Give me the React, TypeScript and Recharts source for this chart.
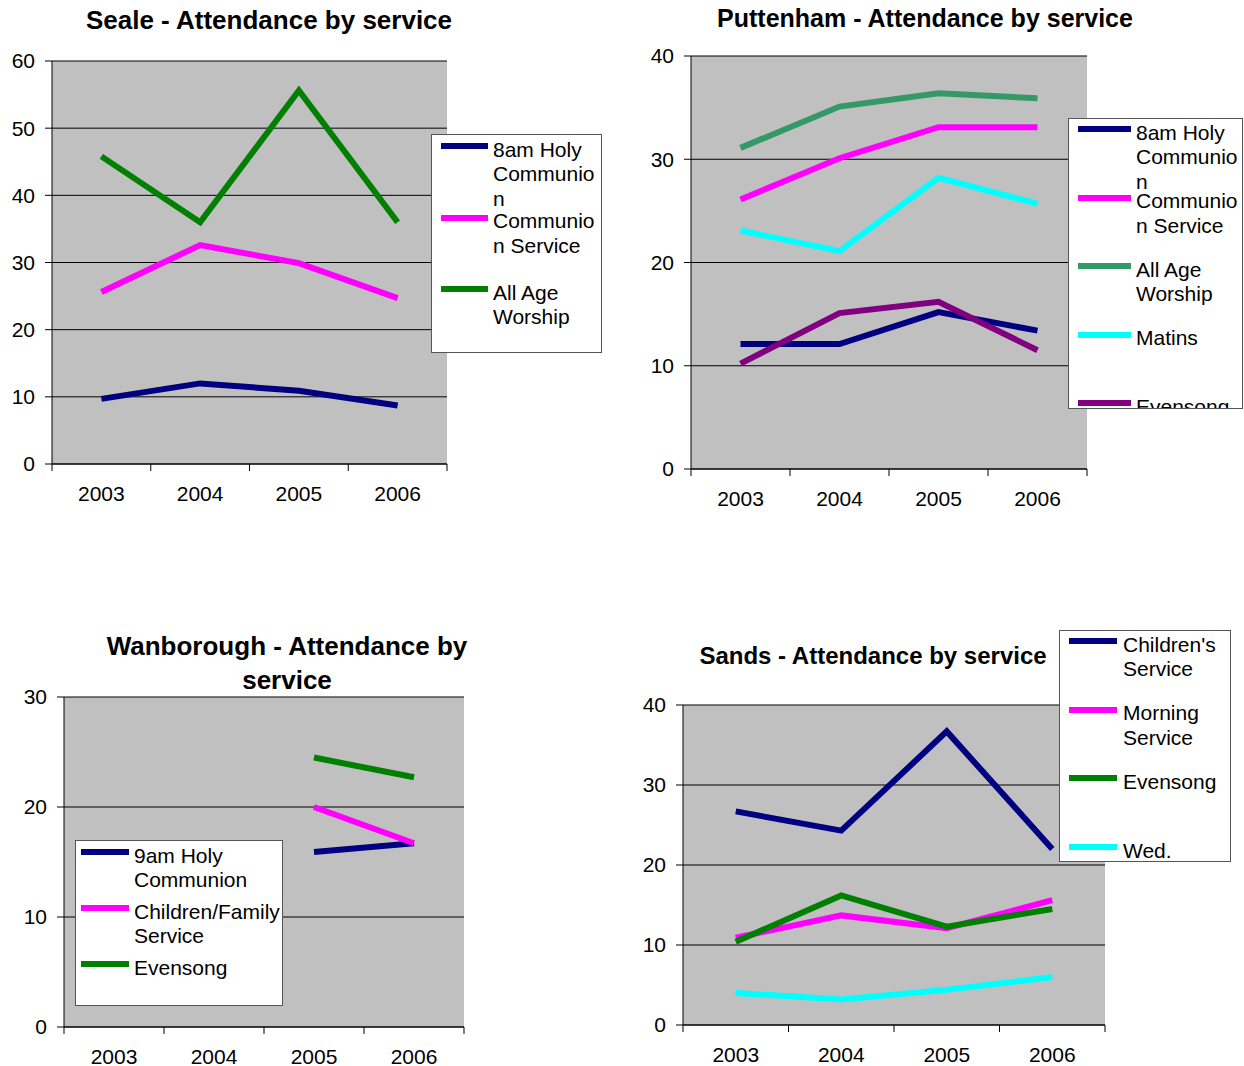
import { CartesianGrid, Legend, Line, LineChart, XAxis, YAxis } from "recharts";

const years = ["2003", "2004", "2005", "2006"];

// Seale
const sealeHolyCommunion = [9.7, 12.0, 10.9, 8.7];
const sealeCommunionService = [25.6, 32.6, 29.9, 24.7];
const sealeAllAge = [45.8, 36.0, 55.6, 36.0];
const sealeTicks = [0, 10, 20, 30, 40, 50, 60];

// Puttenham
const puttHolyCommunion = [12.1, 12.1, 15.2, 13.4];
const puttCommunionService = [26.1, 30.1, 33.1, 33.1];
const puttAllAge = [31.1, 35.1, 36.4, 35.9];
const puttMatins = [23.1, 21.1, 28.2, 25.7];
const puttEvensong = [10.2, 15.1, 16.2, 11.5];
const puttTicks = [0, 10, 20, 30, 40];

// Wanborough
const wanHolyCommunion = [null, null, 15.9, 16.7];
const wanChildrenFamily = [null, null, 20.0, 16.7];
const wanEvensong = [null, null, 24.5, 22.7];
const wanTicks = [0, 10, 20, 30];

// Sands
const sandsChildren = [26.7, 24.3, 36.7, 22.0];
const sandsMorning = [10.9, 13.7, 12.1, 15.6];
const sandsEvensong = [10.4, 16.2, 12.3, 14.5];
const sandsWed = [4.0, 3.2, 4.4, 6.0];
const sandsTicks = [0, 10, 20, 30, 40];

const font = '"Liberation Sans", Arial, sans-serif';

type Series = { name: string; values: (number | null)[]; color: string };
type Plot = { left: number; right: number; top: number; bottom: number };
type LegendBox = {
  left: number; top: number; width: number; height: number;
  swatchLeft: number; swatchWidth: number; textLeft: number; first: number; step: number;
};
type Title = { lines: string[]; cx: number; cy: number; size: number; lineHeight: number };

function YearTick(props: any) {
  const { x, y, payload, index, band, last } = props;
  return (
    <g>
      <line x1={x - band / 2} y1={y} x2={x - band / 2} y2={y + 7} stroke="#000" />
      {index === last && <line x1={x + band / 2} y1={y} x2={x + band / 2} y2={y + 7} stroke="#000" />}
      <text x={x} y={y + 37} textAnchor="middle" fontSize={21} fill="#000">
        {payload.value}
      </text>
    </g>
  );
}

function AttendanceChart({ title, plot, ticks, series, legend }: {
  title: Title; plot: Plot; ticks: number[]; series: Series[]; legend: LegendBox;
}) {
  const chartLeft = plot.left - 60;
  const chartTop = plot.top - 20;
  const width = plot.right - chartLeft + 20;
  const height = plot.bottom - chartTop + 60;
  const band = (plot.right - plot.left) / years.length;
  const max = ticks[ticks.length - 1];
  const rows = years.map((year, i) => {
    const row: Record<string, string | number | null> = { year };
    series.forEach((s, k) => (row["s" + k] = s.values[i]));
    return row;
  });

  const renderLegend = () => (
    <div style={{ position: "relative", width: legend.width, height: legend.height, background: "#fff", border: "1px solid #555", boxSizing: "border-box", overflow: "hidden", fontFamily: font }}>
      {series.map((s, i) => {
        const cy = legend.first + i * legend.step;
        return (
          <div key={s.name}>
            <div style={{ position: "absolute", left: legend.swatchLeft - 1, top: cy - 4, width: legend.swatchWidth, height: 6, background: s.color }} />
            <div style={{ position: "absolute", left: legend.textLeft - 1, top: cy + 4 - 13.25, width: legend.width - legend.textLeft - 1, fontSize: 21, lineHeight: "24.5px", color: "#000", overflowWrap: "break-word", textAlign: "left" }}>
              {s.name}
            </div>
          </div>
        );
      })}
    </div>
  );

  return (
    <>
      <div style={{ position: "absolute", left: title.cx - 300, width: 600, top: title.cy - title.lineHeight / 2, textAlign: "center", fontWeight: "bold", fontSize: title.size, lineHeight: title.lineHeight + "px", fontFamily: font }}>
        {title.lines.map((l) => <div key={l}>{l}</div>)}
      </div>
      <div style={{ position: "absolute", left: chartLeft, top: chartTop }}>
        <LineChart width={width} height={height} data={rows} margin={{ top: 20, right: 20, bottom: 0, left: 0 }}>
          <CartesianGrid vertical={false} stroke="#000" fill="#C0C0C0" fillOpacity={1} />
          <XAxis dataKey="year" scale="band" height={60} tickSize={0} tickMargin={0} tickLine={false} axisLine={{ stroke: "#000" }}
            tick={(p: any) => <YearTick {...p} band={band} last={years.length - 1} />} />
          <XAxis xAxisId="top" orientation="top" dataKey="year" scale="band" height={0} tick={false} tickLine={false} axisLine={{ stroke: "#808080", strokeWidth: 2 }} />
          <YAxis width={60} domain={[0, max]} ticks={ticks} tickSize={7} tickMargin={10} interval={0}
            axisLine={{ stroke: "#000" }} tickLine={{ stroke: "#000" }} tick={{ fill: "#000", fontSize: 21 }} />
          <YAxis yAxisId="right" orientation="right" width={0} domain={[0, max]} tick={false} tickLine={false} axisLine={{ stroke: "#808080", strokeWidth: 2 }} />
          {series.map((s, k) => (
            <Line key={s.name} dataKey={"s" + k} name={s.name} stroke={s.color} strokeWidth={6} dot={false} activeDot={false} isAnimationActive={false} connectNulls={false} />
          ))}
          <Legend layout="vertical" align="center" verticalAlign="middle" content={renderLegend}
            wrapperStyle={{ left: legend.left - chartLeft, top: legend.top - chartTop, width: legend.width, height: legend.height }} />
        </LineChart>
      </div>
    </>
  );
}

export default function App() {
  return (
    <div style={{ position: "absolute", left: 0, top: 0, width: 1244, height: 1066, background: "#fff", fontFamily: font, overflow: "hidden" }}>
      <AttendanceChart
        title={{ lines: ["Seale - Attendance by service"], cx: 269, cy: 20, size: 26, lineHeight: 34 }}
        plot={{ left: 52, right: 447, top: 61, bottom: 464 }}
        ticks={sealeTicks}
        series={[
          { name: "8am Holy Communion", values: sealeHolyCommunion, color: "#000080" },
          { name: "Communion Service", values: sealeCommunionService, color: "#FF00FF" },
          { name: "All Age Worship", values: sealeAllAge, color: "#008000" },
        ]}
        legend={{ left: 431, top: 134, width: 171, height: 219, swatchLeft: 10, swatchWidth: 47, textLeft: 62, first: 12, step: 71.5 }}
      />
      <AttendanceChart
        title={{ lines: ["Puttenham - Attendance by service"], cx: 925, cy: 18, size: 25, lineHeight: 34 }}
        plot={{ left: 691, right: 1087, top: 56, bottom: 469 }}
        ticks={puttTicks}
        series={[
          { name: "8am Holy Communion", values: puttHolyCommunion, color: "#000080" },
          { name: "Communion Service", values: puttCommunionService, color: "#FF00FF" },
          { name: "All Age Worship", values: puttAllAge, color: "#339966" },
          { name: "Matins", values: puttMatins, color: "#00FFFF" },
          { name: "Evensong", values: puttEvensong, color: "#800080" },
        ]}
        legend={{ left: 1068, top: 118, width: 175, height: 291, swatchLeft: 10, swatchWidth: 53, textLeft: 68, first: 11, step: 68.5 }}
      />
      <AttendanceChart
        title={{ lines: ["Wanborough - Attendance by", "service"], cx: 287, cy: 646, size: 26, lineHeight: 34 }}
        plot={{ left: 64, right: 464, top: 697, bottom: 1027 }}
        ticks={wanTicks}
        series={[
          { name: "9am Holy Communion", values: wanHolyCommunion, color: "#000080" },
          { name: "Children/Family Service", values: wanChildrenFamily, color: "#FF00FF" },
          { name: "Evensong", values: wanEvensong, color: "#008000" },
        ]}
        legend={{ left: 75, top: 840, width: 208, height: 166, swatchLeft: 6, swatchWidth: 48, textLeft: 59, first: 12, step: 56 }}
      />
      <AttendanceChart
        title={{ lines: ["Sands - Attendance by service"], cx: 873, cy: 656, size: 24, lineHeight: 34 }}
        plot={{ left: 683, right: 1105, top: 705, bottom: 1025 }}
        ticks={sandsTicks}
        series={[
          { name: "Children's Service", values: sandsChildren, color: "#000080" },
          { name: "Morning Service", values: sandsMorning, color: "#FF00FF" },
          { name: "Evensong", values: sandsEvensong, color: "#008000" },
          { name: "Wed.", values: sandsWed, color: "#00FFFF" },
        ]}
        legend={{ left: 1059, top: 630, width: 172, height: 232, swatchLeft: 10, swatchWidth: 48, textLeft: 64, first: 11, step: 68.7 }}
      />
    </div>
  );
}
